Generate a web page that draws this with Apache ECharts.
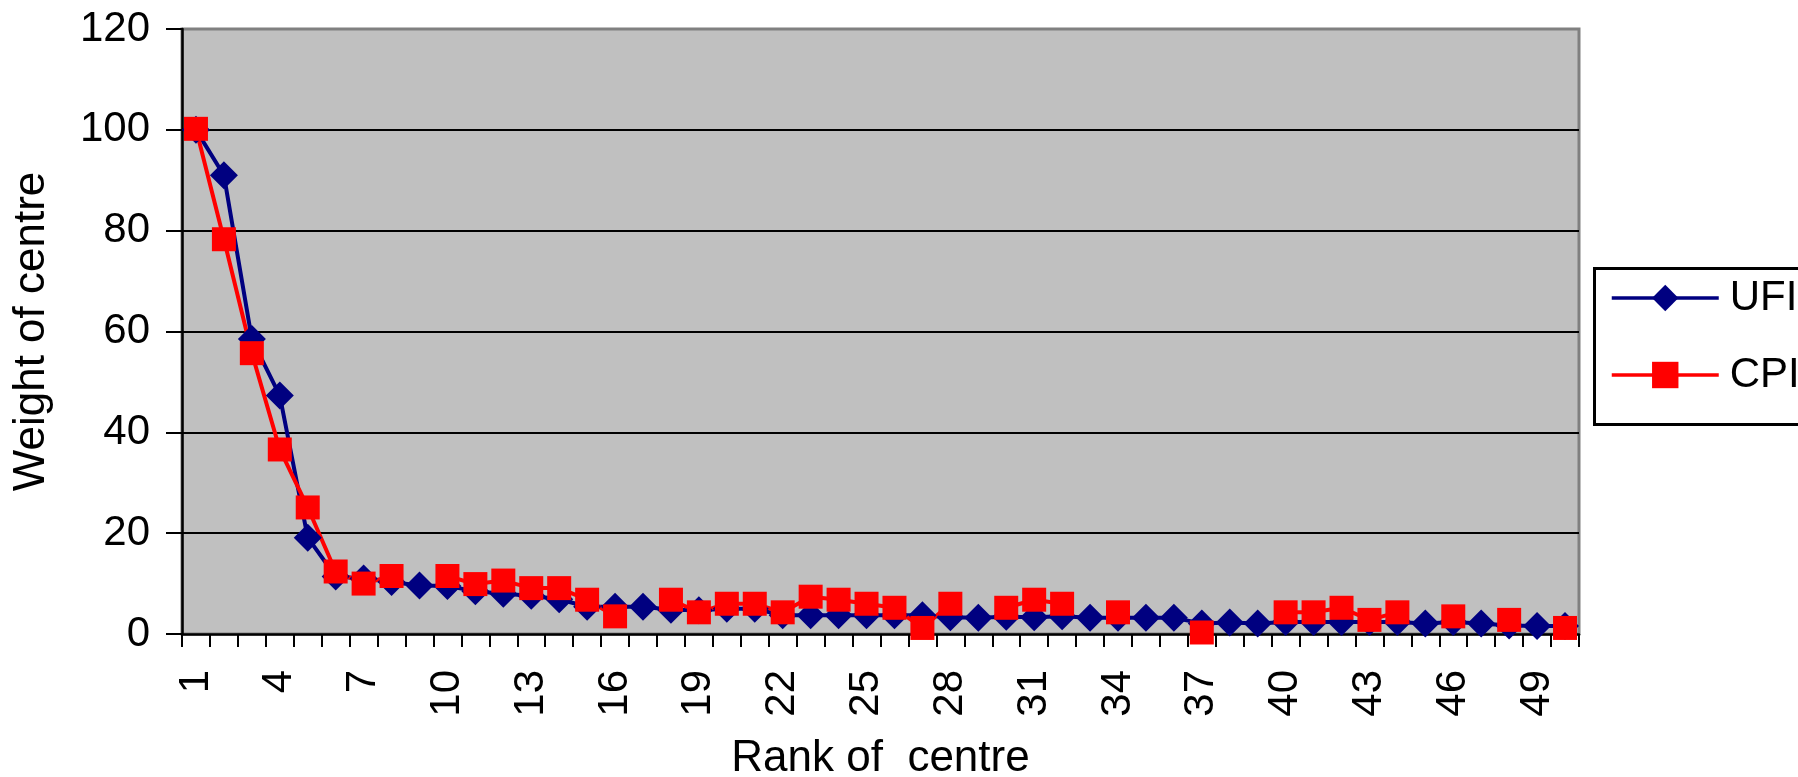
<!DOCTYPE html>
<html>
<head>
<meta charset="utf-8">
<script src="https://cdn.jsdelivr.net/npm/echarts@6/dist/echarts.min.js"></script>
<style>
  html, body { margin: 0; padding: 0; background: #ffffff; }
  #chart { width: 1798px; height: 777px; }
</style>
</head>
<body>
<div id="chart"></div>
<script>
const categories = ['1','2','3','4','5','6','7','8','9','10','11','12','13','14','15','16','17','18','19','20','21','22','23','24','25','26','27','28','29','30','31','32','33','34','35','36','37','38','39','40','41','42','43','44','45','46','47','48','49','50'];
const ufi = [100, 91, 58.5, 47.3, 19.1, 11.4, 11, 10.3, 9.6, 9.5, 8.5, 8, 7.6, 6.9, 5.4, 5.4, 5.4, 4.8, 4.7, 5.0, 5.0, 3.7, 3.7, 3.7, 3.7, 3.7, 3.7, 3.3, 3.2, 3.4, 3.3, 3.5, 3.2, 3.2, 3.2, 3.2, 2.1, 2.3, 2.1, 2.4, 2.4, 2.4, 2.4, 2.4, 2.1, 2.4, 2.1, 1.7, 1.6, 1.6];
const cpi = [100.2, 78.3, 55.7, 36.6, 25.1, 12.4, 10.0, 11.5, null, 11.5, 9.9, 10.6, 9.1, 9.1, 6.8, 3.5, null, 6.8, 4.3, 6.0, 6.0, 4.3, 7.4, 6.8, 6.0, 5.2, 1.2, 6.0, null, 5.2, 6.8, 6.0, null, 4.3, null, null, 0.3, null, null, 4.3, 4.3, 5.2, 2.8, 4.3, null, 3.5, null, 2.8, null, 1.2];
const yTicks = { min: 0, max: 120, interval: 20 };
const seriesNames = ['UFI', 'CPI'];
const xTitle = 'Rank of  centre';
const yTitle = 'Weight of centre';

const FONT = '"Liberation Sans", Arial, sans-serif';
const chart = echarts.init(document.getElementById('chart'), null, { renderer: 'canvas' });
chart.setOption({
  animation: false,
  backgroundColor: '#ffffff',
  grid: {
    left: 182, right: 219, top: 29, bottom: 143,
    show: true, backgroundColor: '#C0C0C0', borderColor: '#808080', borderWidth: 3,
    containLabel: false,
    outerBoundsMode: 'none'
  },
  legend: {
    orient: 'vertical',
    left: 1610, top: 277,
    padding: 0,
    itemWidth: 107, itemHeight: 33, itemGap: 35,
    lineStyle: { width: 3.5 },
    textStyle: { fontFamily: FONT, fontSize: 42, lineHeight: 42, color: '#000', padding: [0, 0, 0, 6] },
    data: seriesNames
  },
  graphic: [{
    type: 'rect', left: 1592, top: 266, z: 100,
    shape: { width: 240, height: 156 },
    style: { fill: 'none', stroke: '#000', lineWidth: 3 }
  }],
  xAxis: {
    type: 'category',
    data: categories,
    boundaryGap: true,
    name: xTitle,
    nameLocation: 'middle',
    nameGap: 103,
    nameTextStyle: { fontFamily: FONT, fontSize: 44, color: '#000' },
    axisLine: { lineStyle: { color: '#000', width: 2.5 } },
    axisTick: { show: true, interval: 0, length: 13, lineStyle: { color: '#000', width: 2 } },
    axisLabel: { interval: 2, rotate: 90, margin: 36, fontFamily: FONT, fontSize: 42, color: '#000' },
    splitLine: { show: false }
  },
  yAxis: {
    type: 'value',
    min: yTicks.min, max: yTicks.max, interval: yTicks.interval,
    name: yTitle,
    nameLocation: 'middle',
    nameGap: 128,
    nameTextStyle: { fontFamily: FONT, fontSize: 44, color: '#000' },
    axisLine: { show: true, lineStyle: { color: '#000', width: 2.5 } },
    axisTick: { show: true, length: 16, lineStyle: { color: '#000', width: 2 } },
    axisLabel: { margin: 32, fontFamily: FONT, fontSize: 42, color: '#000' },
    splitLine: { show: true, showMinLine: false, showMaxLine: false, lineStyle: { color: '#000', width: 2 } }
  },
  series: [
    {
      name: seriesNames[0], type: 'line', data: ufi,
      symbol: 'diamond', symbolSize: 28, showAllSymbol: true,
      lineStyle: { color: '#000080', width: 4 },
      itemStyle: { color: '#000080' },
      connectNulls: false
    },
    {
      name: seriesNames[1], type: 'line', data: cpi,
      symbol: 'rect', symbolSize: 24, showAllSymbol: true,
      lineStyle: { color: '#FF0000', width: 4 },
      itemStyle: { color: '#FF0000' },
      connectNulls: false
    }
  ]
});
</script>
</body>
</html>
